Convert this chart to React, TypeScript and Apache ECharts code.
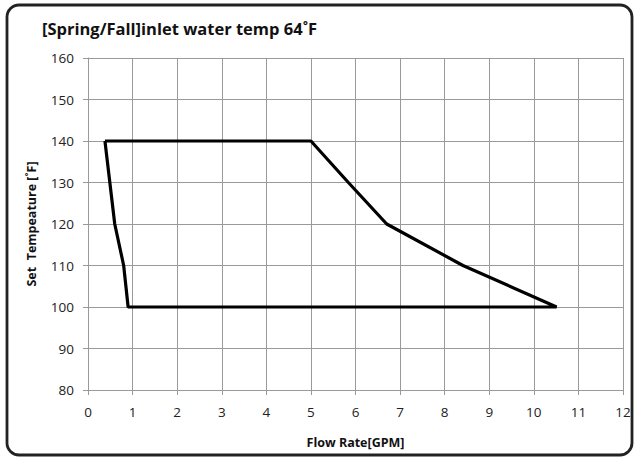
import React, { useEffect, useRef } from "react";
import * as echarts from "echarts";

const titleText = "[Spring/Fall]inlet water temp 64˚F";
const xName = "Flow Rate[GPM]";
const yName = "Set  Tempeature [˚F]";
const flowRate = [0.38, 5, 5.84, 6.7, 8.41, 10.51, 0.9, 0.8, 0.6, 0.38];
const setTemp = [140, 140, 130, 120, 110, 100, 100, 110, 120, 140];

export default function App() {
  const ref = useRef<HTMLDivElement>(null);
  useEffect(() => {
    const chart = echarts.init(ref.current!, null, { renderer: "svg" });
    const font = "'Open Sans', 'Liberation Sans', sans-serif";
    chart.setOption({
      animation: false,
      backgroundColor: "#fff",
      textStyle: { fontFamily: font },
      graphic: [
        {
          type: "rect",
          shape: { x: 7, y: 5, width: 625, height: 450, r: 12 },
          style: { fill: "none", stroke: "#222", lineWidth: 2.8 },
          z: 10,
        },
        {
          type: "text",
          left: 42,
          top: 20,
          style: { text: titleText, font: `bold 16.5px ${font}`, fill: "#111" },
        },
      ],
      grid: { left: 88, right: 15, top: 58, bottom: 69 },
      xAxis: {
        type: "value",
        min: 0,
        max: 12,
        interval: 1,
        name: xName,
        nameLocation: "middle",
        nameGap: 46,
        nameTextStyle: { fontWeight: "bold", fontSize: 12.5, color: "#111", fontFamily: font },
        axisLine: { show: true, lineStyle: { color: "#999" } },
        axisTick: { show: true, length: 5, lineStyle: { color: "#999" } },
        axisLabel: { fontSize: 13.5, color: "#222", margin: 15, fontFamily: font },
        splitLine: { show: true, lineStyle: { color: "#9a9a9a", width: 1 } },
      },
      yAxis: {
        type: "value",
        min: 80,
        max: 160,
        interval: 10,
        name: yName,
        nameLocation: "middle",
        nameGap: 50,
        nameTextStyle: { fontWeight: "bold", fontSize: 12.5, color: "#111", fontFamily: font },
        axisLine: { show: true, lineStyle: { color: "#999" } },
        axisTick: { show: true, length: 5, lineStyle: { color: "#999" } },
        axisLabel: { fontSize: 13.5, color: "#222", margin: 14, fontFamily: font },
        splitLine: { show: true, lineStyle: { color: "#9a9a9a", width: 1 } },
      },
      series: [
        {
          type: "line",
          data: flowRate.map((x, i) => [x, setTemp[i]]),
          showSymbol: false,
          lineStyle: { color: "#000", width: 3.2 },
          z: 5,
        },
      ],
    });
    return () => chart.dispose();
  }, []);
  return (
    <div
      ref={ref}
      style={{ position: "absolute", left: 0, top: 0, width: 638, height: 459 }}
    />
  );
}
